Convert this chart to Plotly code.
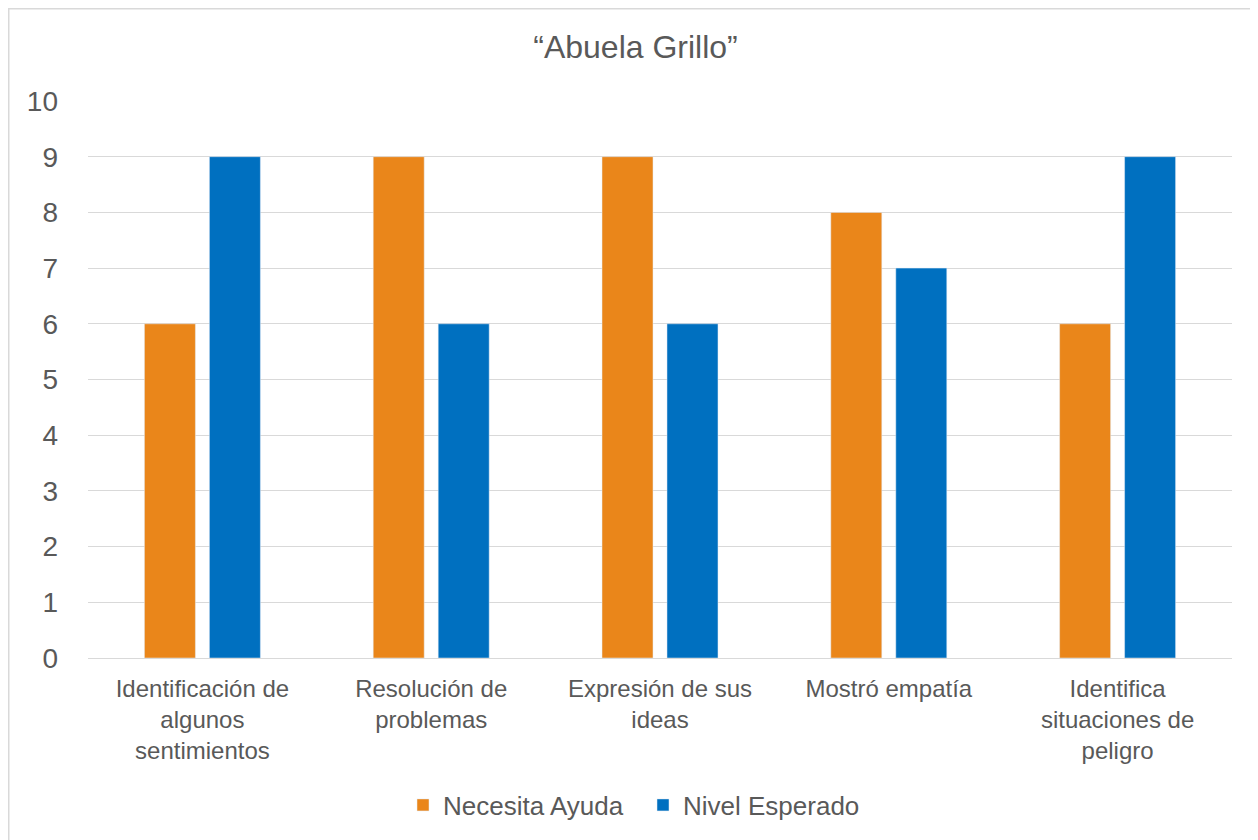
import plotly.graph_objects as go

categories = ["Identificación de<br>algunos<br>sentimientos", "Resolución de<br>problemas",
              "Expresión de sus<br>ideas", "Mostró empatía", "Identifica<br>situaciones de<br>peligro"]
necesita_ayuda = [6, 9, 9, 8, 6]
nivel_esperado = [9, 6, 6, 7, 9]
y_ticks = list(range(0, 11))

# page body has an 8px margin, so the figure is 8px smaller than the window
W, H = 1250, 832
L, R, T, B = 80, 26, 93, 182
pw, ph = W - L - R, H - T - B

fig = go.Figure()
fig.add_trace(go.Bar(x=categories, y=necesita_ayuda, name="Necesita Ayuda", marker_color="#EA861A"))
fig.add_trace(go.Bar(x=categories, y=nivel_esperado, name="Nivel Esperado", marker_color="#0070C0"))

font = "Liberation Sans, Arial, sans-serif"
fig.update_layout(
    width=W, height=H,
    margin=dict(l=L, r=R, t=T, b=B, autoexpand=False),
    paper_bgcolor="white", plot_bgcolor="white",
    barmode="group", bargap=0.432, bargroupgap=0.215,
    title=dict(text="“Abuela Grillo”", x=627.5 / W, xanchor="center", y=1 - 39 / H, yanchor="middle",
               font=dict(family=font, size=32, color="#595959")),
    font=dict(family=font, color="#595959"),
    showlegend=True,
    legend=dict(orientation="h", x=(395 - L) / pw, xanchor="left", y=-(797 - 650) / ph, yanchor="middle",
                font=dict(size=26, color="#595959"), itemwidth=30, tracegroupgap=0,
                entrywidth=195, entrywidthmode="pixels"),
    xaxis=dict(showgrid=False, showline=True, linecolor="#D9D9D9", linewidth=1.3, ticks="",
               tickfont=dict(size=24, color="#595959"), tickangle=0, automargin=False,
               ticklabelstandoff=9),
    yaxis=dict(range=[0, 10], tickvals=y_ticks, showgrid=True, gridcolor="#D9D9D9", gridwidth=1.3,
               zeroline=False, showline=False, ticks="", tickfont=dict(size=28, color="#595959"),
               ticklabelstandoff=29, automargin=False),
)

fig.add_shape(type="rect", xref="paper", yref="paper",
              x0=(0.5 - L) / pw, x1=(W + 10 - L) / pw,
              y0=-(H + 10 - T - ph) / ph, y1=1 + (T - 0.5) / ph,
              line=dict(color="#D9D9D9", width=2), fillcolor="rgba(0,0,0,0)", layer="below")

fig.write_html("out.html")
